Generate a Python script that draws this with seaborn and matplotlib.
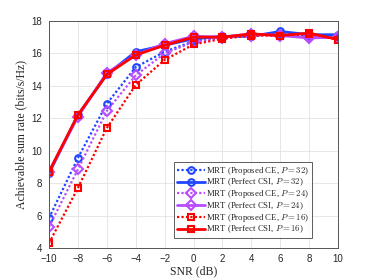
import matplotlib as mpl
import matplotlib.pyplot as plt
import seaborn as sns

snr = [-10, -8, -6, -4, -2, 0, 2, 4, 6, 8, 10]

ce_32 = [5.85, 9.55, 12.9, 15.15, 16.1, 16.75, 17.0, 17.1, 17.2, 17.1, 17.1]
perf_32 = [8.6, 12.2, 14.7, 16.1, 16.5, 16.9, 17.05, 17.05, 17.35, 17.15, 17.15]
ce_24 = [5.3, 8.85, 12.45, 14.65, 16.0, 16.7, 16.95, 17.1, 17.15, 17.0, 17.0]
perf_24 = [8.7, 12.1, 14.8, 15.9, 16.6, 17.05, 17.0, 17.2, 17.1, 16.95, 17.0]
ce_16 = [4.3, 7.7, 11.4, 14.05, 15.6, 16.55, 16.9, 17.1, 17.1, 17.2, 16.85]
perf_16 = [8.7, 12.2, 14.7, 15.9, 16.5, 17.0, 17.0, 17.2, 17.1, 17.25, 16.85]

labels = [
    r'MRT (Proposed CE, $P=32$)',
    r'MRT (Perfect CSI, $P=32$)',
    r'MRT (Proposed CE, $P=24$)',
    r'MRT (Perfect CSI, $P=24$)',
    r'MRT (Proposed CE, $P=16$)',
    r'MRT (Perfect CSI, $P=16$)',
]

sns.set_style("whitegrid")
mpl.rcParams['mathtext.fontset'] = 'cm'
mpl.rcParams['font.family'] = ['Liberation Sans', 'DejaVu Sans']

blue = '#1f45ff'
purple = '#b84dff'
red = '#ff0000'

series = [
    (ce_32, blue, 'o', (0, (1, 1)), 1.6),
    (perf_32, blue, 'o', '-', 2.0),
    (ce_24, purple, 'D', (0, (1, 1)), 1.6),
    (perf_24, purple, 'D', '-', 2.0),
    (ce_16, red, 's', (0, (1, 1)), 1.6),
    (perf_16, red, 's', '-', 2.0),
]

fig = plt.figure(figsize=(3.74, 2.79), dpi=100)
ax = fig.add_axes([0.131, 0.111, 0.773, 0.814])

for (vals, col, mk, ls, lw), lab in zip(series, labels):
    sns.lineplot(x=snr, y=vals, ax=ax, color=col, marker=mk, linestyle=ls,
                 linewidth=lw, markersize=4.8, markerfacecolor='none',
                 markeredgecolor=col, markeredgewidth=1.5, label=lab)

ax.set_xlim(-10, 10)
ax.set_ylim(4, 18)
ax.set_xticks(range(-10, 11, 2))
ax.set_yticks(range(4, 19, 2))
ax.tick_params(axis='both', labelsize=7, direction='in', length=3, color='#444444')
ax.tick_params(axis='x', pad=4)
ax.tick_params(axis='y', pad=5)
ax.grid(True, color='#e3e3e3', linewidth=0.6)
for s in ax.spines.values():
    s.set_color('#555555')
    s.set_linewidth(0.7)

serif = ['Liberation Serif', 'DejaVu Serif']
ax.set_xlabel('SNR (dB)', fontsize=8.5, family=serif, labelpad=1)
ax.set_ylabel('Achievable sum rate (bits/s/Hz)', fontsize=8.5, family=serif, labelpad=3)

leg = ax.legend(loc='lower right', bbox_to_anchor=(0.91, 0.044),
                prop={'family': serif, 'size': 6.3},
                frameon=True, fancybox=False, handlelength=3.2, handleheight=0.4,
                borderpad=0.3, labelspacing=0.0, handletextpad=0.2,
                borderaxespad=0)
leg.get_frame().set_edgecolor('#333333')
leg.get_frame().set_linewidth(0.7)

fig.savefig('out.png', dpi=100)
